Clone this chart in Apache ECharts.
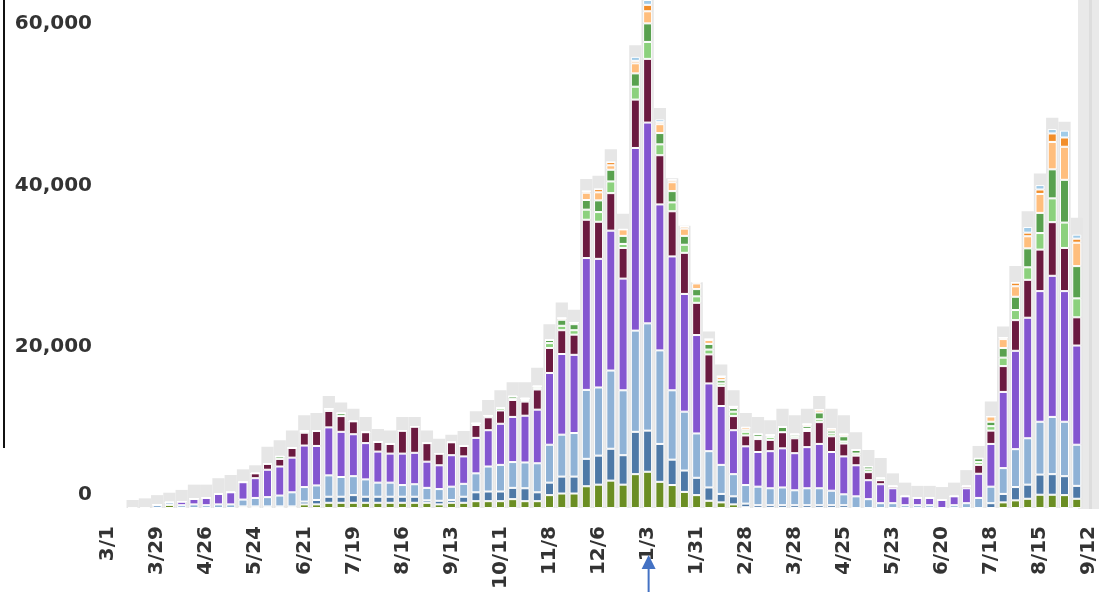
<!DOCTYPE html>
<html>
<head>
<meta charset="utf-8">
<title>Weekly stacked bars</title>
<script src="https://cdn.jsdelivr.net/npm/echarts@6/dist/echarts.min.js"></script>
<style>
  html, body { margin: 0; padding: 0; background: #fff; }
  #chart { width: 1099px; height: 592px; }
</style>
</head>
<body>
<div id="chart"></div>
<script>
// week starting dates, 3/1/2020 .. 9/12/2021
const weeks = ['3/1','3/8','3/15','3/22','3/29','4/5','4/12','4/19','4/26','5/3','5/10','5/17','5/24','5/31',
  '6/7','6/14','6/21','6/28','7/5','7/12','7/19','7/26','8/2','8/9','8/16','8/23','8/30','9/6','9/13','9/20',
  '9/27','10/4','10/11','10/18','10/25','11/1','11/8','11/15','11/22','11/29','12/6','12/13','12/20','12/27',
  '1/3','1/10','1/17','1/24','1/31','2/7','2/14','2/21','2/28','3/7','3/14','3/21','3/28','4/4','4/11','4/18',
  '4/25','5/2','5/9','5/16','5/23','5/30','6/6','6/13','6/20','6/27','7/4','7/11','7/18','7/25','8/1','8/8',
  '8/15','8/22','8/29','9/5','9/12'];

const yTicks = [0, 20000, 40000, 60000];

// stacked groups, bottom to top
const olive = [0,0,0,0,0,400,0,0,0,0,0,0,0,0,0,0,450,450,650,650,650,650,650,650,650,650,650,450,650,650,
  850,850,850,1100,850,850,1600,1800,1800,2700,2900,3400,2900,4200,4500,3250,2850,2000,1600,900,700,450,100,
  0,0,0,0,0,0,0,0,0,0,0,0,0,0,0,0,0,0,0,0,700,950,1150,1650,1650,1600,1150,null];
const steel = [0,0,0,0,0,0,0,0,0,0,0,200,200,200,200,200,350,550,750,750,950,750,750,750,750,750,300,450,350,750,
  1100,1200,1200,1400,1600,1100,1550,2100,2100,3400,3600,3950,3650,5250,5100,4700,3150,2650,2150,1650,1050,1000,450,
  350,350,350,350,350,350,350,350,0,0,0,0,0,0,0,0,0,0,0,600,1050,1650,1750,2500,2550,2350,1600,null];
const lightBlue = [0,0,0,0,400,300,350,450,350,450,450,850,1050,1150,1350,1750,1800,1800,2650,2450,2350,2150,1750,1750,
  1450,1550,1550,1450,1650,1600,2350,3100,3300,3200,3200,3600,4700,5200,5400,8550,8450,9700,8050,12550,13300,11600,
  8600,7300,5500,4500,3600,2750,2300,2300,2100,2200,1850,2100,2100,1800,1350,1450,1100,600,600,350,350,350,0,350,
  600,1250,2050,3200,4700,5750,6550,7100,6750,5100,null];
const purple = [0,0,0,0,0,0,450,700,900,1300,1500,2150,2450,3400,3600,4300,5150,4900,5950,5600,5200,4500,3850,3600,
  3900,3900,3250,2950,3900,3400,4400,4500,5100,5600,5800,6650,8900,10000,9700,16350,15950,17350,13850,22650,24900,
  18100,16600,14600,12200,8400,7300,5450,4800,4300,4600,4850,4600,5100,5500,4800,4700,3850,2350,2350,1850,1100,900,
  900,1000,1100,1850,3000,5300,9450,12200,14950,16200,17500,16200,12300,null];
const maroon = [0,0,0,0,0,0,0,0,0,0,0,0,600,750,950,1200,1600,1850,2050,1950,1600,1350,1200,1200,2850,3250,2300,1450,
  1600,1300,1600,1600,1650,2100,1750,2500,3100,2950,2500,4750,4600,4650,3800,6000,7900,6100,5600,5100,4000,3600,2500,
  1750,1350,1600,1400,2000,1850,2000,2700,1950,1600,1200,1000,500,250,0,0,0,0,0,250,1100,1650,3200,3800,4700,5150,
  6650,5350,3500,null];
const lightGreen = [0,0,0,0,0,0,0,0,0,0,0,0,0,0,0,0,0,0,0,0,0,0,0,0,0,0,0,0,0,0,200,200,300,150,200,200,600,550,550,
  1250,1200,1450,500,1600,2100,1350,1100,1000,800,600,300,550,450,250,350,0,250,250,350,350,250,250,350,0,0,0,0,0,0,
  0,0,350,550,1050,1250,1550,2050,2950,3150,2350,null];
const green = [0,0,0,0,0,0,0,0,0,0,0,0,0,0,300,0,200,0,250,350,0,0,0,0,0,0,0,0,0,0,0,0,0,300,200,200,400,750,750,1200,
  1450,1450,1000,1650,2300,1400,1400,1100,900,700,400,450,250,350,250,650,250,350,850,350,650,450,350,250,0,0,0,0,0,
  0,0,450,550,1200,1650,2350,2500,3600,5300,4000,null];
const lightOrange = [0,0,0,0,0,0,0,0,0,0,0,0,0,0,0,0,0,0,0,0,0,0,0,0,0,0,0,0,0,0,0,0,0,0,0,0,0,200,200,900,1000,550,
  800,1250,1500,1100,1100,900,700,500,400,200,300,0,0,0,0,250,350,250,250,0,0,0,0,0,0,0,0,0,0,0,650,1100,1300,1500,
  2350,3400,4100,2900,null];
const orange = [0,0,0,0,0,0,0,0,0,0,0,0,0,0,0,0,0,0,0,0,0,0,0,0,0,0,0,0,0,0,0,0,0,0,0,0,0,0,0,200,400,400,0,300,800,
  250,300,250,200,100,100,0,0,0,0,0,0,0,0,0,0,0,0,0,0,0,0,0,0,0,0,0,0,200,450,450,550,1050,1150,500,null];
const skyBlue = [0,0,0,0,0,0,0,0,0,0,0,0,0,0,0,0,0,0,0,0,0,0,0,0,0,0,0,0,0,0,0,0,0,0,0,0,0,0,0,0,0,0,0,500,600,350,
  0,0,0,0,0,0,0,0,0,0,0,0,0,0,0,0,0,0,0,0,0,0,0,0,0,0,0,0,0,700,550,550,850,500,null];
// light grey block drawn behind each week
const greyBg = [0,0,1000,1200,1600,1900,2250,2900,2900,3700,4100,4800,5300,7600,8400,9600,11500,11800,13900,13100,
  12300,11300,9800,9600,11300,11300,9600,8600,9100,9550,12000,13400,14600,15600,15600,17400,22800,25500,24600,40800,
  41200,44500,36500,57400,65000,49600,40900,35000,28000,21900,17800,14600,11800,11300,10900,12300,11500,12300,13900,
  12300,11500,9400,7200,6200,4300,3150,2750,2750,2600,3150,4700,7700,13200,22500,30000,36800,41500,48400,47900,36000,null];

const groups = [
  ['g1', olive, '#6b8e23'],
  ['g2', steel, '#4e79a7'],
  ['g3', lightBlue, '#8fb2d6'],
  ['g4', purple, '#8456d0'],
  ['g5', maroon, '#6b1a40'],
  ['g6', lightGreen, '#8cd17d'],
  ['g7', green, '#59a14f'],
  ['g8', lightOrange, '#ffbe7d'],
  ['g9', orange, '#f28e2b'],
  ['g10', skyBlue, '#a0cbe8']
];

const labelFont = { fontFamily: 'DejaVu Sans', fontWeight: 'bold', fontSize: 20, color: '#333' };

const chart = echarts.init(document.getElementById('chart'));

const series = [{
  name: 'bg',
  type: 'bar',
  xAxisIndex: 0,
  data: greyBg,
  barWidth: '100%',
  silent: true,
  z: 2,
  itemStyle: { color: '#e6e6e6' }
}].concat(groups.map(g => ({
  name: g[0],
  type: 'bar',
  stack: 'all',
  xAxisIndex: 1,
  data: g[1],
  barWidth: 9,
  silent: true,
  z: 3,
  itemStyle: { color: g[2], borderColor: '#ffffff', borderWidth: 1 }
})));

chart.setOption({
  animation: false,
  grid: { left: 102, width: 996.5, top: 0, bottom: 80 },
  xAxis: [{
    type: 'category',
    data: weeks,
    axisLine: { show: false },
    axisTick: { show: false },
    axisLabel: Object.assign({ interval: 3, rotate: 90, margin: 18 }, labelFont)
  }, {
    type: 'category',
    data: weeks,
    show: false
  }],
  yAxis: {
    type: 'value',
    min: yTicks[0],
    max: 63000,
    interval: yTicks[1] - yTicks[0],
    splitLine: { show: false },
    axisLine: { show: false },
    axisTick: { show: false },
    axisLabel: Object.assign({
      margin: 10,
      showMaxLabel: false,
      formatter: v => v === 0 ? '{z|0}' : String(v).replace(/\B(?=(\d{3})+(?!\d))/g, ','),
      rich: { z: Object.assign({ padding: [0, 0, 26, 0] }, labelFont) }
    }, labelFont)
  },
  series: series
});

// decorations: cut axis line at left, grey side panel, arrow under the 1/3 label
const ax = chart.convertToPixel({ xAxisIndex: 0 }, '1/3');
chart.setOption({
  graphic: [
    { type: 'line', z: 0, shape: { x1: 4, y1: 0, x2: 4, y2: 448 }, style: { stroke: '#111', lineWidth: 2 } },
    { type: 'rect', z: -10, shape: { x: 1078, y: 0, width: 21, height: 509 }, style: { fill: '#e9e9e9' } },
    { type: 'rect', z: -10, shape: { x: 1089, y: 0, width: 3, height: 509 }, style: { fill: '#dddddd' } },
    { type: 'line', z: 10, shape: { x1: ax + 1, y1: 566, x2: ax + 1, y2: 592 }, style: { stroke: '#4472c4', lineWidth: 2 } },
    { type: 'polygon', z: 10, shape: { points: [[ax + 1, 555], [ax - 6, 569], [ax + 8, 569]] }, style: { fill: '#4472c4' } }
  ]
});
</script>
</body>
</html>
